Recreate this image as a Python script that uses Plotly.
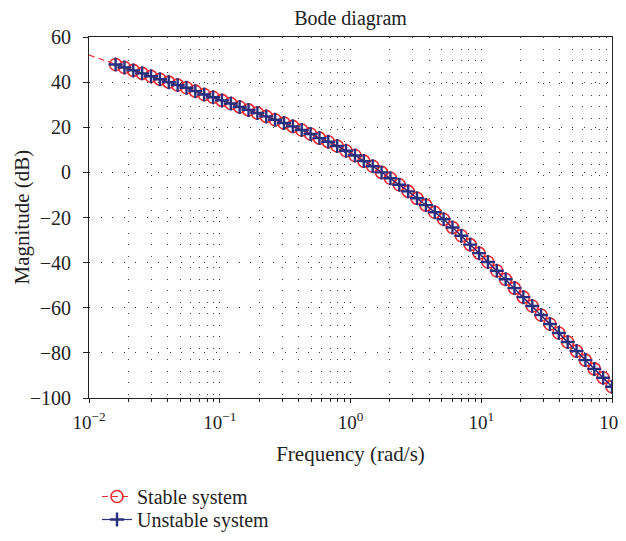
import plotly.graph_objects as go

# Frequencies (rad/s)
freq = [0.01, 0.011689, 0.013664, 0.015972, 0.01867, 0.021823, 0.02551, 0.029819,
        0.034856, 0.040743, 0.047625, 0.05567, 0.065073, 0.076065, 0.088914, 0.10393,
        0.12149, 0.14201, 0.166, 0.19404, 0.22681, 0.26512, 0.30991, 0.36226,
        0.42345, 0.49498, 0.57859, 0.67632, 0.79057, 0.92411, 1.0821, 1.2649,
        1.4786, 1.7283, 2.0203, 2.3615, 2.7605, 3.2268, 3.7719, 4.4091,
        5.1538, 6.0244, 7.042, 8.2316, 9.622, 11.247, 13.147, 15.367,
        17.963, 20.997, 24.544, 28.69, 33.536, 39.201, 45.823, 53.563,
        62.61, 73.187, 85.549, 100.0]

# Magnitude (dB)
mag_stable = [52.0, 50.6, 49.2, 47.8, 46.5, 45.2, 43.9, 42.6, 41.3, 40.0,
              38.7, 37.5, 36.0, 34.5, 33.3, 31.9, 30.5, 29.0, 27.7, 26.3,
              24.8, 23.3, 21.9, 20.4, 18.8, 17.0, 15.2, 13.6, 11.7, 9.6,
              7.5, 5.0, 2.7, 0.0, -2.6, -5.5, -8.4, -11.5, -14.5, -17.7,
              -20.8, -24.4, -28.1, -32.0, -35.8, -39.7, -43.6, -47.4, -51.3, -55.3,
              -59.2, -63.2, -67.2, -71.2, -75.2, -79.2, -83.2, -87.1, -91.0, -95.0]
mag_unstable = list(mag_stable)

marker_start = 3  # first sampled point that carries a marker

x_tickvals = [0.01, 0.1, 1, 10, 100]
x_ticktext = ["10<sup>\u22122</sup>", "10<sup>\u22121</sup>", "10<sup>0</sup>",
              "10<sup>1</sup>", "10<sup>2</sup>"]
x_minor_vals = [m * d for d in [0.01, 0.1, 1, 10] for m in range(2, 10)]
y_tickvals = [60, 40, 20, 0, -20, -40, -60, -80, -100]
y_ticktext = ["60", "40", "20", "0", "\u221220", "\u221240", "\u221260", "\u221280", "\u2212100"]

RED = "#ee2a2f"
BLUE = "#27307f"
INK = "#222222"
FONT = "Liberation Serif"

# The page body adds an 8px offset, so the figure is sized to the visible area.
W, H = 618, 533
ML, MT, PW = 81, 29, 523

fig = go.Figure()

# invisible trace to anchor the minor-tick overlay axis
fig.add_trace(go.Scatter(x=[freq[0], freq[-1]], y=[mag_stable[0], mag_stable[-1]],
                         xaxis="x2", yaxis="y", mode="markers",
                         marker=dict(opacity=0), showlegend=False, hoverinfo="skip"))

# Stable system: dashed red line over all samples
fig.add_trace(go.Scatter(
    x=freq, y=mag_stable, mode="lines",
    line=dict(color=RED, width=1.2, dash="6px,4px"),
    showlegend=False, hoverinfo="skip"))
fig.add_trace(go.Scatter(
    x=freq[marker_start:], y=mag_stable[marker_start:], mode="lines+markers",
    name="Stable system", legend="legend",
    line=dict(color=RED, width=1.2, dash="6px,4px"),
    marker=dict(symbol="circle-open", size=12, color=RED, line=dict(width=1.6, color=RED))))
fig.add_trace(go.Scatter(
    x=freq[marker_start:], y=mag_unstable[marker_start:], mode="lines+markers",
    name="Unstable system", legend="legend2",
    line=dict(color=BLUE, width=1.2),
    marker=dict(symbol="cross-thin-open", size=10, color=BLUE, line=dict(width=2.4, color=BLUE))))

grid_dash = "1px,10.5px"

legend_common = dict(xref="container", yref="container", x=89 / W,
                     xanchor="left", yanchor="top",
                     font=dict(family=FONT, size=20, color=INK),
                     bgcolor="rgba(0,0,0,0)")

fig.update_layout(
    width=W, height=H,
    margin=dict(l=ML, r=14, t=MT, b=143, autoexpand=False),
    paper_bgcolor="white", plot_bgcolor="white",
    title=dict(text="Bode diagram", x=0.5, xref="paper", yref="container",
               y=1 - 10 / H, yanchor="middle",
               font=dict(family=FONT, size=20, color=INK)),
    xaxis=dict(
        type="log", range=[-2, 2],
        tickvals=x_tickvals, ticktext=x_ticktext,
        ticks="outside", ticklen=4, tickcolor=INK, tickwidth=1,
        ticklabelstandoff=3, ticklabeloverflow="allow",
        showline=True, linecolor=INK, linewidth=1, mirror=True,
        showgrid=True, gridcolor="#333", gridwidth=1, griddash=grid_dash,
        zeroline=False,
        tickfont=dict(family=FONT, size=19, color=INK),
        title=dict(text="Frequency (rad/s)", font=dict(family=FONT, size=21, color=INK), standoff=14),
    ),
    xaxis2=dict(
        type="log", range=[-2, 2], overlaying="x", anchor="y",
        tickvals=x_minor_vals, showticklabels=False,
        ticks="outside", ticklen=3, tickcolor=INK, tickwidth=1,
        showgrid=True, gridcolor="#444", gridwidth=1, griddash=grid_dash,
        showline=False, zeroline=False,
    ),
    yaxis=dict(
        range=[-100, 60],
        tickvals=y_tickvals, ticktext=y_ticktext,
        ticks="outside", ticklen=5, tickcolor=INK, tickwidth=1,
        ticklabelstandoff=8,
        showline=True, linecolor=INK, linewidth=1, mirror=True,
        showgrid=True, gridcolor="#333", gridwidth=1, griddash=grid_dash,
        zeroline=False,
        tickfont=dict(family=FONT, size=20, color=INK),
    ),
    legend=dict(legend_common, y=1 - 469 / H),
    legend2=dict(legend_common, y=1 - 492 / H),
    annotations=[dict(text="Magnitude (dB)", textangle=-90,
                      xref="paper", yref="paper", x=(13 - ML) / PW, y=0.5,
                      xanchor="center", yanchor="middle", showarrow=False,
                      font=dict(family=FONT, size=21, color=INK))],
    font=dict(family=FONT, color=INK),
)

fig.write_html("out.html")
